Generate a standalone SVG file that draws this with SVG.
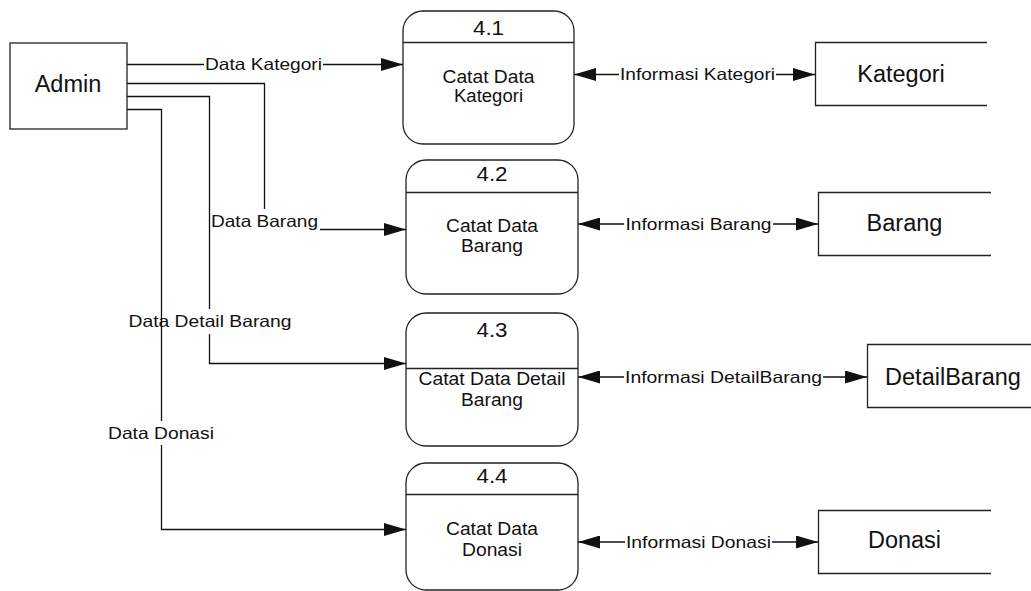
<svg xmlns="http://www.w3.org/2000/svg" width="1031" height="591" viewBox="0 0 1031 591">
  <style>
    .shape { fill: #ffffff; stroke: #222222; stroke-width: 1.3; }
    .store { fill: none; stroke: #222222; stroke-width: 1.3; }
    .flow { fill: none; stroke: #111111; stroke-width: 1.3; }
    .arrow { marker-end: url(#head); }
    text { font-family: "Liberation Sans", Arial, sans-serif; fill: #111111; text-anchor: middle; }
    .lbl { font-size: 16.5px; }
    .ptxt { font-size: 17.5px; }
    .pnum { font-size: 19.5px; }
    .big { font-size: 23.5px; }
  </style>
  <defs>
    <marker id="head" markerUnits="userSpaceOnUse" markerWidth="22" markerHeight="13" refX="22" refY="6.5" orient="auto">
      <path d="M0,0 L22,6.5 L0,13 Z" fill="#111111"/>
    </marker>
  </defs>

  <rect width="1031" height="591" fill="#ffffff"/>

  <!-- external entity -->
  <g id="admin">
    <rect class="shape" x="10" y="43" width="117" height="86"/>
    <text class="big" x="68" y="92">Admin</text>
  </g>

  <!-- processes -->
  <g id="p41">
    <rect class="shape" x="403" y="11" width="171" height="133" rx="20" ry="20"/>
    <line class="store" x1="403" y1="42.5" x2="574" y2="42.5"/>
    <text class="pnum" x="488.5" y="35" textLength="31" lengthAdjust="spacingAndGlyphs">4.1</text>
    <text class="ptxt" x="488.5" y="82.5" textLength="92" lengthAdjust="spacingAndGlyphs">Catat Data</text>
    <text class="ptxt" x="488.5" y="101.5" textLength="69" lengthAdjust="spacingAndGlyphs">Kategori</text>
  </g>
  <g id="p42">
    <rect class="shape" x="406" y="160" width="172" height="134" rx="20" ry="20"/>
    <line class="store" x1="406" y1="192.5" x2="578" y2="192.5"/>
    <text class="pnum" x="492" y="180.5" textLength="31" lengthAdjust="spacingAndGlyphs">4.2</text>
    <text class="ptxt" x="492" y="231.5" textLength="92" lengthAdjust="spacingAndGlyphs">Catat Data</text>
    <text class="ptxt" x="492" y="251.5" textLength="62" lengthAdjust="spacingAndGlyphs">Barang</text>
  </g>
  <g id="p43">
    <rect class="shape" x="406" y="313" width="172" height="133" rx="20" ry="20"/>
    <line class="store" x1="406" y1="368.5" x2="578" y2="368.5"/>
    <text class="pnum" x="492" y="336.5" textLength="31" lengthAdjust="spacingAndGlyphs">4.3</text>
    <text class="ptxt" x="492" y="385" textLength="147" lengthAdjust="spacingAndGlyphs">Catat Data Detail</text>
    <text class="ptxt" x="492" y="405.5" textLength="62" lengthAdjust="spacingAndGlyphs">Barang</text>
  </g>
  <g id="p44">
    <rect class="shape" x="406" y="463" width="172" height="127" rx="20" ry="20"/>
    <line class="store" x1="406" y1="494.5" x2="578" y2="494.5"/>
    <text class="pnum" x="492" y="482.5" textLength="31" lengthAdjust="spacingAndGlyphs">4.4</text>
    <text class="ptxt" x="492" y="535" textLength="92" lengthAdjust="spacingAndGlyphs">Catat Data</text>
    <text class="ptxt" x="492" y="555.5" textLength="60" lengthAdjust="spacingAndGlyphs">Donasi</text>
  </g>

  <!-- data stores -->
  <g id="kategori">
    <path class="store" d="M987,42.5 H815.5 V105.5 H987"/>
    <text class="big" x="901" y="81.5">Kategori</text>
  </g>
  <g id="barang">
    <path class="store" d="M991,192.5 H818.5 V255.5 H991"/>
    <text class="big" x="904.5" y="231">Barang</text>
  </g>
  <g id="detailbarang">
    <path class="store" d="M1031,344.5 H867.5 V407.5 H1031"/>
    <text class="big" x="953" y="385">DetailBarang</text>
  </g>
  <g id="donasi">
    <path class="store" d="M991,510.5 H818.5 V573.5 H991"/>
    <text class="big" x="904.5" y="548">Donasi</text>
  </g>

  <!-- data flows -->
  <g id="connectors">
    <!-- Admin to processes -->
    <line class="flow" x1="127" y1="64.5" x2="204" y2="64.5"/>
    <line class="flow arrow" x1="323" y1="64.5" x2="403" y2="64.5"/>
    <text class="lbl" x="263.5" y="70" textLength="117" lengthAdjust="spacingAndGlyphs">Data Kategori</text>

    <polyline class="flow" points="127,83.5 264.5,83.5 264.5,209"/>
    <line class="flow arrow" x1="320" y1="229.5" x2="406" y2="229.5"/>
    <text class="lbl" x="264.5" y="227" textLength="107" lengthAdjust="spacingAndGlyphs">Data Barang</text>

    <polyline class="flow" points="127,96.5 209.5,96.5 209.5,309"/>
    <polyline class="flow arrow" points="209.5,334 209.5,363.5 406,363.5"/>
    <text class="lbl" x="210" y="327" textLength="163" lengthAdjust="spacingAndGlyphs">Data Detail Barang</text>

    <polyline class="flow" points="127,109.5 161.5,109.5 161.5,421"/>
    <polyline class="flow arrow" points="161.5,445 161.5,529.5 406,529.5"/>
    <text class="lbl" x="161" y="439" textLength="106" lengthAdjust="spacingAndGlyphs">Data Donasi</text>

    <!-- processes to data stores (two-way) -->
    <line class="flow arrow" x1="619" y1="74.5" x2="574" y2="74.5"/>
    <line class="flow arrow" x1="776" y1="74.5" x2="815" y2="74.5"/>
    <text class="lbl" x="697.5" y="80" textLength="155" lengthAdjust="spacingAndGlyphs">Informasi Kategori</text>

    <line class="flow arrow" x1="624" y1="224" x2="578" y2="224"/>
    <line class="flow arrow" x1="773" y1="224" x2="818" y2="224"/>
    <text class="lbl" x="698.5" y="229.5" textLength="146" lengthAdjust="spacingAndGlyphs">Informasi Barang</text>

    <line class="flow arrow" x1="624" y1="377" x2="578" y2="377"/>
    <line class="flow arrow" x1="823" y1="377" x2="867" y2="377"/>
    <text class="lbl" x="723.5" y="382.5" textLength="197" lengthAdjust="spacingAndGlyphs">Informasi DetailBarang</text>

    <line class="flow arrow" x1="625" y1="542" x2="578" y2="542"/>
    <line class="flow arrow" x1="772" y1="542" x2="818" y2="542"/>
    <text class="lbl" x="698.5" y="547.5" textLength="145" lengthAdjust="spacingAndGlyphs">Informasi Donasi</text>
  </g>
</svg>
